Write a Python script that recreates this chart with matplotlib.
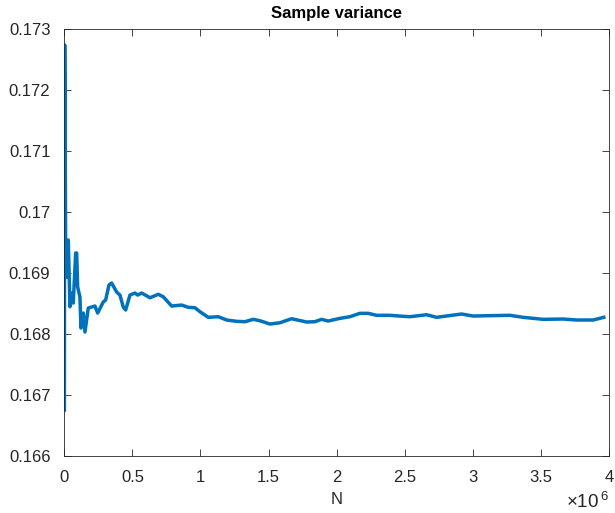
import numpy as np
import matplotlib
matplotlib.use("Agg")
import matplotlib.pyplot as plt
from matplotlib.ticker import FuncFormatter

# ------------------------------------------------------------
# Data
# ------------------------------------------------------------
n_samples = [
    1000, 3000, 6000, 10000, 17600, 29400, 41800, 58700, 66000, 83700,
    91000, 98300, 115000, 122600, 139400, 151900, 176100, 201100, 225300, 245100,
    286200, 303800, 328000, 347900, 384600, 408800, 433000, 450600, 482200, 518900,
    538700, 568000, 629000, 689900, 726600, 788200, 861600, 910000, 959200, 995900,
    1056800, 1130200, 1191800, 1265200, 1326100, 1387100, 1436200, 1509600, 1583000, 1668900,
    1779000, 1839900, 1889000, 1937500, 2023300, 2096700, 2170100, 2231000, 2292700, 2390300,
    2458600, 2537100, 2659700, 2733000, 2916500, 3001600, 3100000, 3271000, 3368600, 3515400,
    3662200, 3760500, 3882400, 3960900,
]
sample_var = [
    0.166754, 0.172738, 0.171500, 0.169500, 0.168934, 0.169541, 0.168448, 0.168672, 0.168508, 0.169328,
    0.169328, 0.168770, 0.168607, 0.168098, 0.168344, 0.168033, 0.168426, 0.168443, 0.168459, 0.168344,
    0.168525, 0.168557, 0.168803, 0.168836, 0.168689, 0.168639, 0.168443, 0.168393, 0.168639, 0.168672,
    0.168639, 0.168672, 0.168595, 0.168651, 0.168611, 0.168459, 0.168475, 0.168438, 0.168431, 0.168366,
    0.168274, 0.168284, 0.168230, 0.168208, 0.168202, 0.168241, 0.168218, 0.168164, 0.168185, 0.168251,
    0.168197, 0.168202, 0.168241, 0.168213, 0.168257, 0.168284, 0.168339, 0.168339, 0.168307, 0.168307,
    0.168295, 0.168284, 0.168316, 0.168274, 0.168328, 0.168295, 0.168300, 0.168307, 0.168274, 0.168241,
    0.168246, 0.168230, 0.168230, 0.168274,
]
x_ticks = [0, 0.5e6, 1e6, 1.5e6, 2e6, 2.5e6, 3e6, 3.5e6, 4e6]
y_ticks = [0.166, 0.167, 0.168, 0.169, 0.17, 0.171, 0.172, 0.173]

# ------------------------------------------------------------
# Figure (MATLAB-like look)
# ------------------------------------------------------------
plt.rcParams['font.family'] = ['Liberation Sans', 'DejaVu Sans']
plt.rcParams['mathtext.fontset'] = 'custom'
plt.rcParams['mathtext.rm'] = 'Liberation Sans'

fig = plt.figure(figsize=(6.15, 5.13), dpi=100)
ax = fig.add_axes([0.1045, 0.111, 0.886, 0.8325])

ax.plot(n_samples, sample_var, color='#0072BD', lw=2.5, solid_joinstyle='round')

ax.set_xlim(0, 4e6)
ax.set_ylim(0.166, 0.173)
ax.set_xticks(x_ticks)
ax.set_yticks(y_ticks)
ax.xaxis.set_major_formatter(FuncFormatter(lambda v, p: f"{v / 1e6:g}"))
ax.yaxis.set_major_formatter(FuncFormatter(lambda v, p: f"{v:g}"))

dark = '#262626'
for s in ax.spines.values():
    s.set_color(dark)
    s.set_linewidth(0.6)
ax.tick_params(direction='in', length=5, width=0.6, color=dark,
               labelcolor=dark, labelsize=12, top=True, right=True)
ax.tick_params(axis='x', pad=10)
ax.tick_params(axis='y', pad=10)

ax.set_title("Sample variance", fontsize=12, fontweight='bold', color='black', pad=8)
ax.set_xlabel("N", fontsize=12, color=dark, labelpad=5)
fig.text(609 / 615, 1 / 513, r'$\times\mathregular{10^{\,6}}$',
         ha='right', va='bottom', fontsize=13.5, color=dark)

fig.savefig("out.png", dpi=100, facecolor='white')
